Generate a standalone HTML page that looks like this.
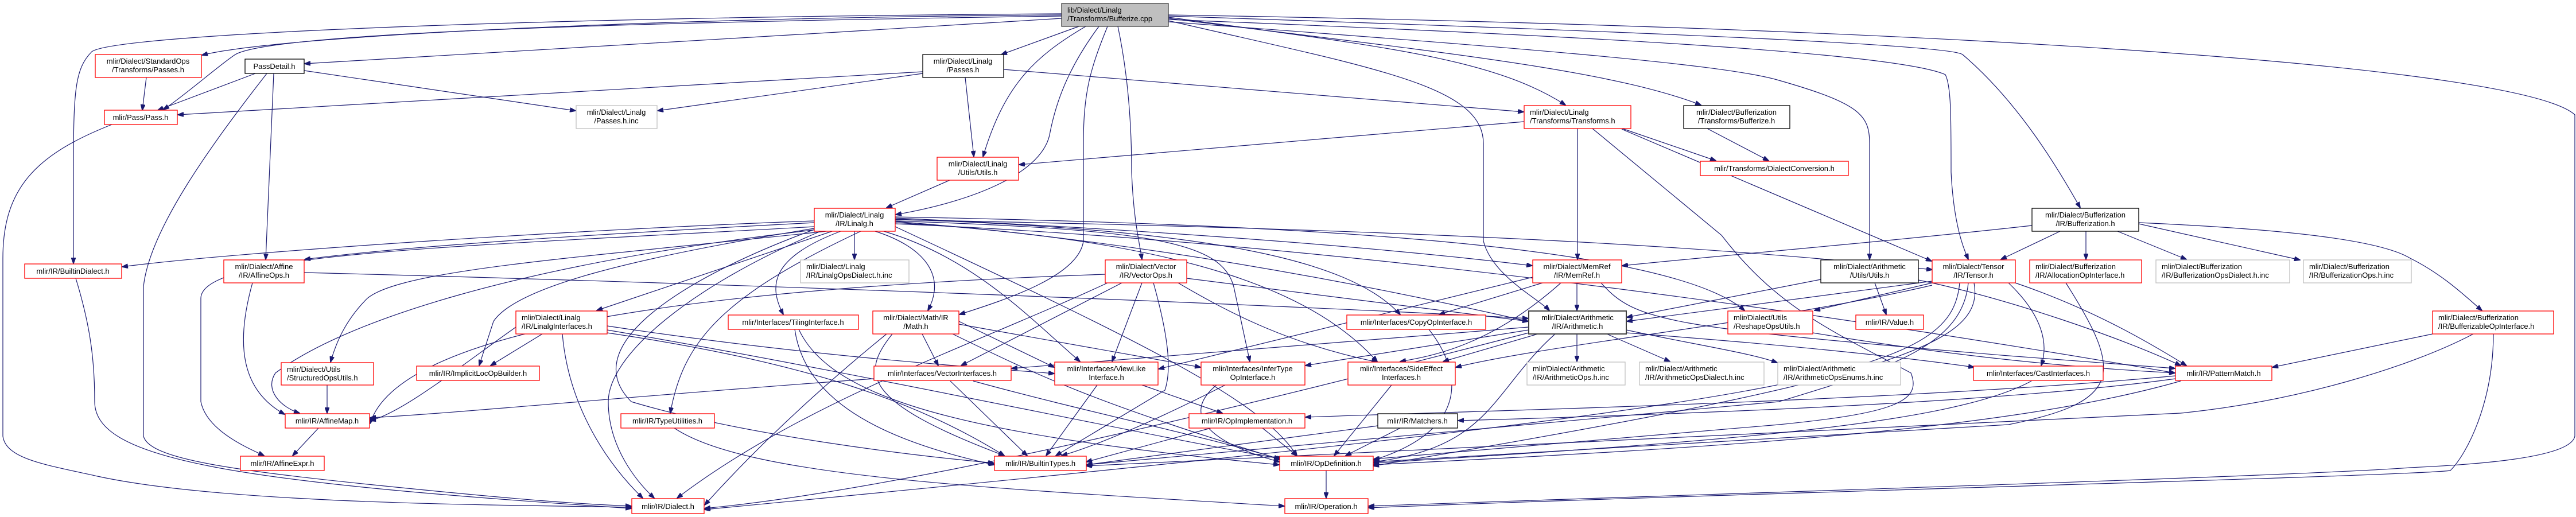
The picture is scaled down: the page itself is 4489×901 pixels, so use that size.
<!DOCTYPE html>
<html><head><meta charset="utf-8"><style>
html,body{margin:0;padding:0;background:#fff;}
svg{display:block;}
text{font-family:"Liberation Sans",sans-serif;font-size:13px;fill:#000;}
.e{fill:none;stroke:#191970;stroke-width:1.2;marker-end:url(#a);}
.r{fill:#fff;stroke:#ff0000;stroke-width:1.3;}
.b{fill:#fff;stroke:#000;stroke-width:1.3;}
.g{fill:#fff;stroke:#bfbfbf;stroke-width:1.3;}
.c{fill:#bfbfbf;stroke:#404040;stroke-width:1.3;}
</style></head><body>
<svg width="4489" height="901" viewBox="0 0 4489 901" xmlns="http://www.w3.org/2000/svg">
<defs><marker id="a" markerUnits="userSpaceOnUse" markerWidth="11" markerHeight="8" refX="10" refY="4" orient="auto"><path d="M0,0 L11,4 L0,8 z" fill="#191970" stroke="#191970"/></marker></defs>
<g>
<path class="e" d="M1850,26 C1200,30 500,60 352,96"/>
<path class="e" d="M1850,32 C1400,60 900,90 531,111"/>
<path class="e" d="M1850,28 C1000,40 470,60 410,95 C380,115 330,160 285,191"/>
<path class="e" d="M1850,24 C900,30 200,60 160,90 C130,120 128,160 128,300 L128,459"/>
<path class="e" d="M1880,46 L1745,95"/>
<path class="e" d="M1892,46 C1800,100 1750,150 1713,273"/>
<path class="e" d="M1915,46 C1860,120 1840,180 1830,230 C1820,300 1700,350 1561,374"/>
<path class="e" d="M1930,46 C1900,120 1888,160 1888,250 L1888,420 C1880,480 1760,520 1672,548"/>
<path class="e" d="M1948,46 C1970,150 1972,250 1972,300 C1975,380 1985,420 1990,452"/>
<path class="e" d="M2036,30 C2400,80 2600,100 2728,183"/>
<path class="e" d="M2036,32 C2500,90 2800,120 2964,183"/>
<path class="e" d="M2036,36 C2400,120 2585,150 2585,250 L2585,420 C2600,480 2680,520 2700,541"/>
<path class="e" d="M2036,38 C2600,80 3000,110 3100,140 C3240,180 3258,200 3258,250 L3258,452"/>
<path class="e" d="M2036,34 C2700,60 3300,90 3390,130 C3400,150 3400,200 3400,300 C3405,400 3425,440 3430,452"/>
<path class="e" d="M2036,28 C3000,60 3400,80 3420,95 C3520,180 3590,300 3625,362"/>
<path class="e" d="M2036,26 C3500,50 4400,120 4487,200 L4487,760 C4480,800 4300,810 4200,815 C4000,830 3000,860 2385,882"/>
<path class="e" d="M1608,125 L310,200"/>
<path class="e" d="M1608,128 L1146,193"/>
<path class="e" d="M530,123 L1003,193"/>
<path class="e" d="M445,128 L275,192"/>
<path class="e" d="M477,128 L463,452"/>
<path class="e" d="M465,128 C370,250 260,400 250,500 L250,760 C260,800 400,820 700,850 C900,870 1000,878 1100,882"/>
<path class="e" d="M255,135 L248,192"/>
<path class="e" d="M195,217 C60,270 5,330 5,450 L5,760 C10,800 80,810 170,830 C400,880 900,880 1100,884"/>
<path class="e" d="M132,485 C155,560 165,620 165,700 C165,800 400,840 1100,886"/>
<path class="e" d="M1682,135 L1697,273"/>
<path class="e" d="M1749,121 L2655,195"/>
<path class="e" d="M1655,314 L1545,362"/>
<path class="e" d="M2656,212 L1776,287"/>
<path class="e" d="M2827,224 L2990,280"/>
<path class="e" d="M2975,224 L3082,280"/>
<path class="e" d="M2749,224 L2749,452"/>
<path class="e" d="M2775,224 L3000,410 C3100,540 3200,580 3330,650 C3350,700 3300,720 3100,740 L2394,800"/>
<path class="e" d="M2826,225 L3366,455"/>
<path class="e" d="M3541,393 C3300,420 3000,445 2827,463"/>
<path class="e" d="M3590,403 L3487,452"/>
<path class="e" d="M3635,403 L3635,452"/>
<path class="e" d="M3690,403 L3810,452"/>
<path class="e" d="M3727,390 L4008,453"/>
<path class="e" d="M3727,388 C4000,400 4150,420 4200,450 C4260,480 4300,520 4325,541"/>
<path class="e" d="M1419,385 C1000,400 400,440 213,465"/>
<path class="e" d="M1419,388 C1000,410 700,430 531,452"/>
<path class="e" d="M1440,403 C1000,450 700,470 640,520 C600,560 585,600 576,631"/>
<path class="e" d="M1425,400 C900,460 600,560 480,650 C460,680 490,710 522,720"/>
<path class="e" d="M1419,395 C800,430 350,440 350,520 L350,700 C360,750 430,780 460,794"/>
<path class="e" d="M1430,403 C1200,500 1060,620 1060,700 C1060,780 1110,840 1140,868"/>
<path class="e" d="M1450,403 L1040,541"/>
<path class="e" d="M1419,398 C1100,450 900,500 860,560 L835,637"/>
<path class="e" d="M1465,403 C1340,450 1340,500 1365,548"/>
<path class="e" d="M1500,403 C1250,520 1190,600 1168,720"/>
<path class="e" d="M1489,403 L1489,452"/>
<path class="e" d="M1525,403 C1610,430 1650,480 1617,541"/>
<path class="e" d="M1540,403 C1700,450 1800,560 1882,630"/>
<path class="e" d="M1560,385 C2000,400 2130,420 2150,500 L2178,630"/>
<path class="e" d="M1560,388 C2100,420 2300,520 2400,630"/>
<path class="e" d="M1560,382 C2100,400 2350,450 2440,548"/>
<path class="e" d="M1560,386 C2000,420 2400,500 2663,560"/>
<path class="e" d="M1560,380 C2000,400 2400,430 2670,463"/>
<path class="e" d="M1560,378 C2200,390 2900,420 3040,541"/>
<path class="e" d="M1560,390 C2500,430 3500,600 3790,650"/>
<path class="e" d="M1419,400 C1200,480 1000,600 1100,700 C1300,760 1600,795 1732,807"/>
<path class="e" d="M1560,395 C2000,600 2200,700 2260,794"/>
<path class="e" d="M1560,383 C2500,400 3000,430 3367,470"/>
<path class="e" d="M945,582 L855,637"/>
<path class="e" d="M1058,580 C1400,630 1600,700 1750,794"/>
<path class="e" d="M899,570 C800,640 700,720 645,733"/>
<path class="e" d="M980,582 C990,700 1050,800 1120,868"/>
<path class="e" d="M1058,575 C1500,650 2000,760 2235,800"/>
<path class="e" d="M1058,568 C1400,620 1700,640 1837,651"/>
<path class="e" d="M570,671 L570,720"/>
<path class="e" d="M440,493 C410,600 420,680 496,722"/>
<path class="e" d="M530,475 C1500,500 2400,540 2663,555"/>
<path class="e" d="M555,746 L510,794"/>
<path class="e" d="M1385,574 C1400,680 1500,760 1733,810"/>
<path class="e" d="M1392,574 C1450,700 1700,760 2229,810"/>
<path class="e" d="M1607,582 L1635,637"/>
<path class="e" d="M1671,560 L1837,640"/>
<path class="e" d="M1555,582 C1500,650 1500,700 1750,794"/>
<path class="e" d="M1545,582 C1400,700 1300,800 1228,880"/>
<path class="e" d="M1660,582 C1800,650 1900,700 2230,800"/>
<path class="e" d="M1671,565 L2092,640"/>
<path class="e" d="M1955,493 L1675,637"/>
<path class="e" d="M1990,493 L1938,630"/>
<path class="e" d="M2010,493 C2040,600 2040,650 2030,680 L1840,794"/>
<path class="e" d="M2053,493 C2150,550 2250,600 2400,631"/>
<path class="e" d="M2068,485 L2663,560"/>
<path class="e" d="M1926,478 C1300,500 700,560 645,738"/>
<path class="e" d="M1930,493 C1700,600 1400,700 1180,868"/>
<path class="e" d="M1912,671 L1823,794"/>
<path class="e" d="M1990,671 L2130,720"/>
<path class="e" d="M2135,671 C2000,740 1900,780 1850,794"/>
<path class="e" d="M2120,671 C2060,720 2100,770 2230,805"/>
<path class="e" d="M2110,746 L1893,805"/>
<path class="e" d="M2200,746 L2260,794"/>
<path class="e" d="M1656,664 L1790,794"/>
<path class="e" d="M1696,664 C1900,720 2100,760 2230,800"/>
<path class="e" d="M1523,660 C1100,690 800,720 645,728"/>
<path class="e" d="M2311,820 L2311,868"/>
<path class="e" d="M2440,746 L2345,794"/>
<path class="e" d="M2401,742 L1894,810"/>
<path class="e" d="M2425,671 L2325,794"/>
<path class="e" d="M2490,574 C2550,650 2560,750 2393,802"/>
<path class="e" d="M1175,746 C1300,830 1700,850 2238,882"/>
<path class="e" d="M2748,582 L2748,630"/>
<path class="e" d="M2800,582 L2910,630"/>
<path class="e" d="M2834,575 C2950,600 3050,615 3097,632"/>
<path class="e" d="M2680,582 L2515,630"/>
<path class="e" d="M2710,582 C2600,680 2600,780 2393,805"/>
<path class="e" d="M2664,575 L2275,637"/>
<path class="e" d="M2664,570 C2300,600 1900,630 1763,642"/>
<path class="e" d="M2834,580 C3100,600 3300,620 3440,640"/>
<path class="e" d="M2664,580 C2200,700 1600,850 1228,886"/>
<path class="e" d="M2748,493 L2748,541"/>
<path class="e" d="M2688,493 L2508,548"/>
<path class="e" d="M2720,493 C2600,600 2500,620 2440,630"/>
<path class="e" d="M2671,483 L2019,643"/>
<path class="e" d="M2790,493 C2850,560 2900,570 3500,620 L3790,642"/>
<path class="e" d="M3267,493 L3287,548"/>
<path class="e" d="M3173,487 L2835,553"/>
<path class="e" d="M3343,488 C3500,520 3700,590 3800,637"/>
<path class="e" d="M3367,490 L2835,560"/>
<path class="e" d="M3367,493 L3162,541"/>
<path class="e" d="M3500,493 C3560,550 3570,600 3557,637"/>
<path class="e" d="M3512,493 C3650,540 3750,600 3810,637"/>
<path class="e" d="M3430,493 C3420,600 3300,640 3100,700 L1893,810"/>
<path class="e" d="M3440,493 C3460,600 3300,660 2393,812"/>
<path class="e" d="M3367,497 C3100,560 2700,600 2537,640"/>
<path class="e" d="M3415,493 C3400,650 3200,700 1228,888"/>
<path class="e" d="M3159,580 C3400,620 3600,640 3790,650"/>
<path class="e" d="M3540,664 C3400,740 3000,770 2393,807"/>
<path class="e" d="M3791,660 C3500,700 3000,720 2541,733"/>
<path class="e" d="M3791,655 C3300,700 2600,715 2275,727"/>
<path class="e" d="M3800,664 C3500,750 3000,780 2393,810"/>
<path class="e" d="M4239,582 L3960,640"/>
<path class="e" d="M4310,582 C4200,640 4000,700 3800,720 L1893,812"/>
<path class="e" d="M4345,582 C4345,700 4300,790 4270,820 C4200,830 3000,860 2385,885"/>
<path class="e" d="M3600,493 C3700,650 3700,700 3500,740 L2393,805"/>
</g>
<g>
<rect class="c" x="1850" y="6" width="186" height="40"/><text x="1860" y="22">lib/Dialect/Linalg</text><text x="1860" y="37">/Transforms/Bufferize.cpp</text>
<rect class="r" x="166" y="95" width="185" height="40"/><text x="258" y="111" text-anchor="middle">mlir/Dialect/StandardOps</text><text x="258" y="126" text-anchor="middle">/Transforms/Passes.h</text>
<rect class="b" x="427" y="103" width="103" height="25"/><text x="478" y="120" text-anchor="middle">PassDetail.h</text>
<rect class="r" x="182" y="192" width="127" height="25"/><text x="245" y="209" text-anchor="middle">mlir/Pass/Pass.h</text>
<rect class="b" x="1608" y="95" width="141" height="40"/><text x="1678" y="111" text-anchor="middle">mlir/Dialect/Linalg</text><text x="1678" y="126" text-anchor="middle">/Passes.h</text>
<rect class="g" x="1004" y="184" width="141" height="40"/><text x="1074" y="200" text-anchor="middle">mlir/Dialect/Linalg</text><text x="1074" y="215" text-anchor="middle">/Passes.h.inc</text>
<rect class="r" x="1633" y="274" width="142" height="40"/><text x="1704" y="290" text-anchor="middle">mlir/Dialect/Linalg</text><text x="1704" y="305" text-anchor="middle">/Utils/Utils.h</text>
<rect class="r" x="1419" y="363" width="141" height="40"/><text x="1489" y="379" text-anchor="middle">mlir/Dialect/Linalg</text><text x="1489" y="394" text-anchor="middle">/IR/Linalg.h</text>
<rect class="r" x="2656" y="184" width="186" height="40"/><text x="2666" y="200">mlir/Dialect/Linalg</text><text x="2666" y="215">/Transforms/Transforms.h</text>
<rect class="b" x="2934" y="184" width="185" height="40"/><text x="3026" y="200" text-anchor="middle">mlir/Dialect/Bufferization</text><text x="3026" y="215" text-anchor="middle">/Transforms/Bufferize.h</text>
<rect class="r" x="2963" y="281" width="258" height="25"/><text x="3092" y="298" text-anchor="middle">mlir/Transforms/DialectConversion.h</text>
<rect class="b" x="3541" y="363" width="186" height="40"/><text x="3634" y="379" text-anchor="middle">mlir/Dialect/Bufferization</text><text x="3634" y="394" text-anchor="middle">/IR/Bufferization.h</text>
<rect class="r" x="43" y="460" width="169" height="25"/><text x="127" y="477" text-anchor="middle">mlir/IR/BuiltinDialect.h</text>
<rect class="r" x="390" y="453" width="140" height="40"/><text x="460" y="469" text-anchor="middle">mlir/Dialect/Affine</text><text x="460" y="484" text-anchor="middle">/IR/AffineOps.h</text>
<rect class="g" x="1395" y="453" width="189" height="40"/><text x="1405" y="469">mlir/Dialect/Linalg</text><text x="1405" y="484">/IR/LinalgOpsDialect.h.inc</text>
<rect class="r" x="1926" y="453" width="142" height="40"/><text x="1997" y="469" text-anchor="middle">mlir/Dialect/Vector</text><text x="1997" y="484" text-anchor="middle">/IR/VectorOps.h</text>
<rect class="r" x="2671" y="453" width="155" height="40"/><text x="2748" y="469" text-anchor="middle">mlir/Dialect/MemRef</text><text x="2748" y="484" text-anchor="middle">/IR/MemRef.h</text>
<rect class="b" x="3173" y="453" width="170" height="40"/><text x="3258" y="469" text-anchor="middle">mlir/Dialect/Arithmetic</text><text x="3258" y="484" text-anchor="middle">/Utils/Utils.h</text>
<rect class="r" x="3367" y="453" width="145" height="40"/><text x="3439" y="469" text-anchor="middle">mlir/Dialect/Tensor</text><text x="3439" y="484" text-anchor="middle">/IR/Tensor.h</text>
<rect class="r" x="3537" y="453" width="195" height="40"/><text x="3547" y="469">mlir/Dialect/Bufferization</text><text x="3547" y="484">/IR/AllocationOpInterface.h</text>
<rect class="g" x="3757" y="453" width="233" height="40"/><text x="3767" y="469">mlir/Dialect/Bufferization</text><text x="3767" y="484">/IR/BufferizationOpsDialect.h.inc</text>
<rect class="g" x="4014" y="453" width="188" height="40"/><text x="4024" y="469">mlir/Dialect/Bufferization</text><text x="4024" y="484">/IR/BufferizationOps.h.inc</text>
<rect class="r" x="899" y="542" width="159" height="40"/><text x="909" y="558">mlir/Dialect/Linalg</text><text x="909" y="573">/IR/LinalgInterfaces.h</text>
<rect class="r" x="1521" y="542" width="150" height="40"/><text x="1596" y="558" text-anchor="middle">mlir/Dialect/Math/IR</text><text x="1596" y="573" text-anchor="middle">/Math.h</text>
<rect class="b" x="2664" y="542" width="170" height="40" style="stroke:#404040;stroke-width:2"/><text x="2749" y="558" text-anchor="middle">mlir/Dialect/Arithmetic</text><text x="2749" y="573" text-anchor="middle">/IR/Arithmetic.h</text>
<rect class="r" x="3011" y="542" width="148" height="40"/><text x="3021" y="558">mlir/Dialect/Utils</text><text x="3021" y="573">/ReshapeOpsUtils.h</text>
<rect class="r" x="4239" y="542" width="211" height="40"/><text x="4249" y="558">mlir/Dialect/Bufferization</text><text x="4249" y="573">/IR/BufferizableOpInterface.h</text>
<rect class="r" x="1269" y="549" width="227" height="25"/><text x="1382" y="566" text-anchor="middle">mlir/Interfaces/TilingInterface.h</text>
<rect class="r" x="2347" y="549" width="242" height="25"/><text x="2468" y="566" text-anchor="middle">mlir/Interfaces/CopyOpInterface.h</text>
<rect class="r" x="3234" y="549" width="118" height="25"/><text x="3293" y="566" text-anchor="middle">mlir/IR/Value.h</text>
<rect class="r" x="490" y="632" width="161" height="39"/><text x="500" y="648">mlir/Dialect/Utils</text><text x="500" y="663">/StructuredOpsUtils.h</text>
<rect class="r" x="726" y="638" width="214" height="25"/><text x="833" y="655" text-anchor="middle">mlir/IR/ImplicitLocOpBuilder.h</text>
<rect class="r" x="1523" y="638" width="239" height="25"/><text x="1642" y="655" text-anchor="middle">mlir/Interfaces/VectorInterfaces.h</text>
<rect class="r" x="3791" y="638" width="168" height="25"/><text x="3875" y="655" text-anchor="middle">mlir/IR/PatternMatch.h</text>
<rect class="r" x="3439" y="638" width="226" height="25"/><text x="3552" y="655" text-anchor="middle">mlir/Interfaces/CastInterfaces.h</text>
<rect class="r" x="1838" y="631" width="180" height="40"/><text x="1928" y="647" text-anchor="middle">mlir/Interfaces/ViewLike</text><text x="1928" y="662" text-anchor="middle">Interface.h</text>
<rect class="r" x="2093" y="631" width="181" height="40"/><text x="2183" y="647" text-anchor="middle">mlir/Interfaces/InferType</text><text x="2183" y="662" text-anchor="middle">OpInterface.h</text>
<rect class="r" x="2349" y="631" width="187" height="40"/><text x="2442" y="647" text-anchor="middle">mlir/Interfaces/SideEffect</text><text x="2442" y="662" text-anchor="middle">Interfaces.h</text>
<rect class="g" x="2661" y="631" width="171" height="40"/><text x="2671" y="647">mlir/Dialect/Arithmetic</text><text x="2671" y="662">/IR/ArithmeticOps.h.inc</text>
<rect class="g" x="2857" y="631" width="217" height="40"/><text x="2867" y="647">mlir/Dialect/Arithmetic</text><text x="2867" y="662">/IR/ArithmeticOpsDialect.h.inc</text>
<rect class="g" x="3098" y="631" width="214" height="40"/><text x="3108" y="647">mlir/Dialect/Arithmetic</text><text x="3108" y="662">/IR/ArithmeticOpsEnums.h.inc</text>
<rect class="r" x="497" y="721" width="147" height="25"/><text x="570" y="738" text-anchor="middle">mlir/IR/AffineMap.h</text>
<rect class="r" x="1082" y="721" width="163" height="25"/><text x="1163" y="738" text-anchor="middle">mlir/IR/TypeUtilities.h</text>
<rect class="r" x="2072" y="721" width="202" height="25"/><text x="2173" y="738" text-anchor="middle">mlir/IR/OpImplementation.h</text>
<rect class="b" x="2401" y="721" width="139" height="25"/><text x="2470" y="738" text-anchor="middle">mlir/IR/Matchers.h</text>
<rect class="r" x="419" y="795" width="146" height="25"/><text x="492" y="812" text-anchor="middle">mlir/IR/AffineExpr.h</text>
<rect class="r" x="1733" y="795" width="160" height="25"/><text x="1813" y="812" text-anchor="middle">mlir/IR/BuiltinTypes.h</text>
<rect class="r" x="2230" y="795" width="163" height="25"/><text x="2311" y="812" text-anchor="middle">mlir/IR/OpDefinition.h</text>
<rect class="r" x="1101" y="869" width="126" height="26"/><text x="1164" y="887" text-anchor="middle">mlir/IR/Dialect.h</text>
<rect class="r" x="2239" y="869" width="145" height="26"/><text x="2311" y="887" text-anchor="middle">mlir/IR/Operation.h</text>
</g>
</svg>
</body></html>
